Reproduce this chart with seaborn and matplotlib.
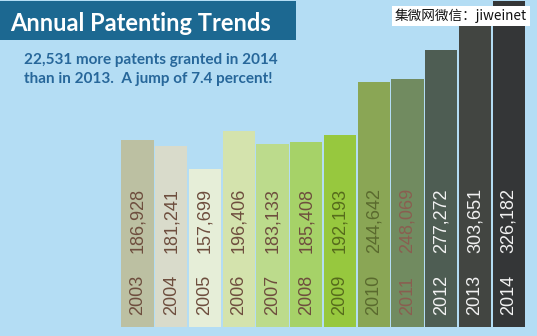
import matplotlib
matplotlib.use("Agg")
import matplotlib.pyplot as plt
import seaborn as sns
import pandas as pd
from matplotlib.patches import Rectangle

years = ['2003', '2004', '2005', '2006', '2007', '2008',
         '2009', '2010', '2011', '2012', '2013', '2014']
patents = [186928, 181241, 157699, 196406, 183133, 185408,
           192193, 244642, 248069, 277272, 303651, 326182]
bar_colors = ['#bcc0a2', '#d9dbcb', '#e6eed8', '#d4e3ad', '#bcdb8c', '#a6d268',
              '#97c83e', '#8aa655', '#718b60', '#4e5d53', '#424541', '#343637']
label_colors = ['#6e4e3e', '#6e4e3e', '#6e4e3e', '#6e4e3e', '#6e4e3e', '#6e4e3e',
                '#566b1c', '#5a6a2e', '#8a5e50', '#f2f2f2', '#f2f2f2', '#f2f2f2']

title = 'Annual Patenting Trends'
subtitle_lines = ['22,531 more patents granted in 2014',
                  'than in 2013.  A jump of 7.4 percent!']
watermark = '集微网微信：jiweinet'

BG = '#b4ddf4'

sns.set_theme(style='white')
plt.rcParams['font.family'] = ['Liberation Sans', 'DejaVu Sans']

df = pd.DataFrame({'year': years, 'patents': patents})

fig = plt.figure(figsize=(5.37, 3.36), dpi=100)
fig.patch.set_facecolor(BG)
ax = fig.add_axes([0, 0, 1, 1])
ax.set_facecolor(BG)

sns.barplot(data=df, x='year', y='patents', hue='year', palette=bar_colors,
            legend=False, width=0.955, saturation=1, ax=ax, edgecolor='none')

ax.set_xlim(-4.074, 11.837)
ax.set_ylim(-9000, 327000)
ax.axis('off')

for patch, yr, val, tc in zip(ax.patches, years, patents, label_colors):
    cx = patch.get_x() + patch.get_width() / 2
    ax.text(cx, 12000, yr, rotation=90, ha='center', va='bottom',
            fontsize=13, color=tc)
    ax.text(cx, 74000, f'{val:,}', rotation=90, ha='center', va='bottom',
            fontsize=13, color=tc)

# Title box
fig.patches.append(Rectangle((0, 1 - 40 / 336), 296 / 537, 39 / 336,
                             transform=fig.transFigure, facecolor='#1c6891',
                             edgecolor='none', zorder=5))
fig.text(10 / 537, 1 - 31 / 336, title, fontsize=17, color='white',
         family=['Lato', 'DejaVu Sans'], fontweight='bold', ha='left',
         va='baseline', zorder=6)

for k, line in enumerate(subtitle_lines):
    fig.text(24 / 537, 1 - (64 + 18.5 * k) / 336, line, fontsize=11,
             color='#27679a', family=['Lato', 'DejaVu Sans'],
             fontweight='bold', ha='left', va='baseline', zorder=6)

fig.text(395 / 537, 1 - 16 / 336, watermark, fontsize=9.8, color='#111111',
         family=['Noto Sans CJK SC', 'DejaVu Sans'], ha='left', va='center',
         zorder=7,
         bbox=dict(boxstyle='square,pad=0.2', facecolor='white',
                   edgecolor='none'))

fig.savefig('out.png', dpi=100, facecolor=BG)
